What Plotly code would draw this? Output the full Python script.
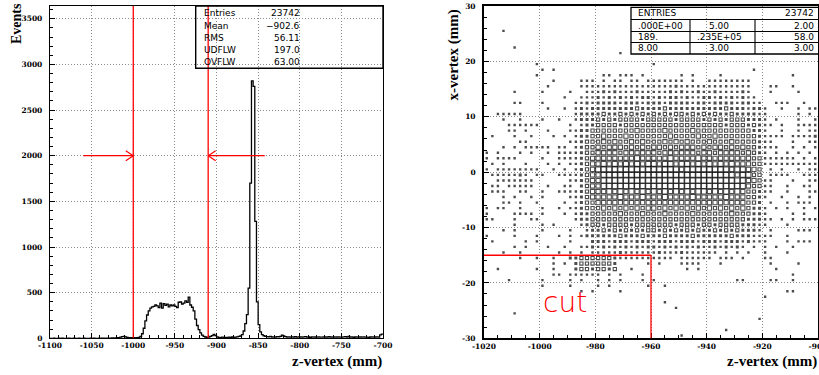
import numpy as np
import plotly.graph_objects as go

W, H = 819, 375

# ---------------- z-vertex spectrum: 2 mm bins, -1100 .. -700 mm ----------------
z_lo, z_hi, z_bin_w = -1100, -700, 2
z_counts = (
    [0, 0, 1, 0, 0, 2, 0, 1, 0, 0] +            # -1100 .. -1080
    [0, 1, 0, 0, 2, 0, 0, 1, 0, 0] +            # -1080 .. -1060
    [1, 0, 0, 0, 1, 0, 2, 0, 0, 1] +            # -1060 .. -1040
    [0, 2, 1, 0, 3, 1, 2, 4, 3, 5] +            # -1040 .. -1020
    [6, 8, 12, 18, 22, 15, 10, 6, 8, 5] +       # -1020 .. -1000
    [6, 5, 8, 10, 20, 50, 110, 190, 255, 300] + # -1000 .. -980
    [330, 345, 350, 365, 355, 335, 385, 330, 380, 360] +
    [375, 345, 365, 355, 365, 350, 335, 395, 400, 375] +
    [385, 410, 395, 450, 365, 340, 300, 210, 140, 95] +
    [60, 35, 22, 14, 10, 12, 20, 30, 42, 30] +  # -920 .. -900
    [15, 10, 8, 12, 6, 10, 8, 12, 10, 14] +
    [10, 12, 15, 20, 25, 40, 80, 160, 260, 550] +
    [1700, 2820, 2760, 1280, 400, 150, 70, 40, 28, 22] +
    [18, 15, 20, 14, 16, 12, 18, 15, 22, 35] +
    [25, 18, 14, 16, 12, 15, 14, 18, 12, 15] +
    [14, 12, 15, 18, 12, 14, 10, 16, 12, 14] +
    [12, 15, 13, 12, 16, 14, 12, 18, 14, 12] +
    [15, 12, 14, 16, 12, 13, 15, 18, 14, 20] +
    [12, 15, 10, 14, 12, 16, 14, 12, 15, 13] +
    [12, 10, 14, 16, 12, 14, 15, 12, 38, 45]    # -720 .. -700
)

stats_labels = ["Entries", "Mean", "RMS", "UDFLW", "OVFLW"]
stats_values = ["23742", "\u2212902.6", "56.11", "197.0", "63.00"]

cut_lo, cut_hi = -1000, -910       # accepted z window (mm)
arrow_level = 2000                 # height of the window arrows

# ---------------- x-vertex vs z-vertex box plot ----------------
# 60 x 60 cells: z from -1020 (2 mm cells), x from -30 (1 mm cells)
bz_lo, bz_w = -1020, 2
bx_lo, bx_w = -30, 1
# relative cell content (0 = empty .. 5 = largest), top row is x = +29.5
E = ".........."
box_rows = [
    E * 6,
    E * 6,
    E * 6,
    E * 6,
    "...1......" + E * 5,
    E * 6,
    E * 6,
    ".....1...." + E * 5,
    E * 2 + "....1....." + E * 3,
    E * 6,
    ".........1" + E * 2 + "1........." + E * 2,
    E + "1.1......." + E * 2 + "........1." + E,
    ".........1" + E + ".11.111.1." + ".....1.1.." + "..1......." + ".....1....",
    E + "..1....111" + ".1.11.11.1" + "111111.1.." + "11111111.." + E,
    E + ".1.....111" + "1111111111" + "1111211111" + "11111111.." + ".11..1....",
    ".....1...." + "1....1..11" + "1212111211" + "1112121121" + "12111121.." + ".1....1...",
    E + "....1..111" + "2121212122" + "1212212112" + "212121211." + E,
    ".....11..." + "1.....1121" + "2222122212" + "2212222122" + "1222212211" + "..111..1..",
    E + ".1..1.1212" + "2222222322" + "2232222222" + "2223222122" + "1..1..1.11",
    "..11111..." + "......1222" + "2322323232" + "3232332323" + "2322322221" + "1.....1.1.",
    "...1..1..." + "1..1..1222" + "3232333323" + "3333233332" + "3232333222" + "1.1...1..1",
    "....111111" + ".....1.122" + "3333233333" + "3333333333" + "3332333232" + "11.1..1111",
    "....11.1.." + ".1...11223" + "3333333433" + "3343333433" + "3333333322" + "1..1..1.11",
    ".1...1..1." + "..1.1.1223" + "3433343333" + "3334333343" + "3433333332" + "1111.11112",
    "......11.." + ".....11233" + "3434334343" + "3343434333" + "4333433332" + "11...1..11",
    "...1.1.111" + "11.11.1233" + "4344434343" + "4434344434" + "3443434332" + "111..1.1.1",
    "1.1...1.1." + ".1.1111233" + "4444344444" + "4344444434" + "4344443432" + "1.1.1.1.1.",
    "1.1111...." + "1..1111234" + "4444444544" + "4445444454" + "4444444433" + "111111.1.1",
    ".1.1...1.." + ".1.1.11234" + "4545454545" + "5455455454" + "5454544433" + "1111111111",
    "1.11111111" + "..1.1.1234" + "5555555555" + "5555545555" + "5555455443" + ".1.1..1.11",
    ".1111121.1" + "1..1111234" + "4555555555" + "5555555555" + "5555545533" + ".1111..111",
    "..1111111." + ".....11234" + "4555555555" + "5555555555" + "5555555443" + "11...1..11",
    ".11.11111." + ".1..11.234" + "4555555555" + "5555555555" + "5555555433" + "11..1..11.",
    ".111..11.." + "1..1111234" + "4454545454" + "5454545455" + "4545454332" + "11..1...11",
    "...1.1..1." + "1....11234" + "4444544454" + "4454444544" + "4445444332" + "1..1..1.1.",
    "...11.1..1" + "....1.1233" + "4444444444" + "4444444444" + "4444444332" + ".1..1.111.",
    "1.11..1..." + "1..1.11233" + "3434343434" + "4343434343" + "4343434322" + "1.1.1..1.1",
    "1....1111." + "1...1.1223" + "3333433343" + "3343333433" + "3333433322" + "1....1.1..",
    "11...1..11" + "......1223" + "3333333333" + "3333333333" + "3333333222" + "11.1.1.111",
    ".....1...." + "1.1....123" + "3233332333" + "3333233323" + "3233332221" + "1...1.....",
    "...1.1...." + "1....1..12" + "2323232323" + "3232323232" + "2323232221" + ".1....111.",
    "1....1...1" + "...1.1.122" + "2222322232" + "2232222322" + "2222322211" + "11..1.....",
    ".1.....1.1" + ".....1...2" + "2212221222" + "1222122212" + "2212221211" + "1...1.111.",
    ".....1.1.." + ".1..1..112" + "1212121212" + "2121212121" + "1212121.1." + "1.1..1....",
    "...1..1..." + "...1.1.1.1" + "1111211111" + "1211121111" + "11.1.1.1.." + "1...1.....",
    "......1..1" + "..1..22333" + "3332111111" + "1111.11111" + "1.111.1..." + "11........",
    E + "..1.1.2333" + "3332.....1" + ".1...1111." + "..1......." + ".1....1...",
    "..1......1" + "..1...2332" + "3323..1..." + "......1.1." + E + "..1.......",
    E + "..11.11111" + "1.1.1...1." + E + E + ".....1....",
    "....1....." + "1....1.1.." + "1.1.1...1." + "1........." + ".....11..." + ".11..1....",
    E + "1....1...." + "1.1......1" + "..1......." + E + E,
    E + ".......1.1" + "....1....." + E + E + "....11....",
    E * 5 + "1.........",
    E * 3 + "..1......." + E * 2,
    E * 3 + "....1....." + E * 2,
    ".....1...." + E * 5,
    E * 4 + ".........1" + E,
    E * 6,
    E * 4 + "...1......" + E,
    E * 3 + ".....1...." + E * 2,
]

table_entries = 23742
table_cells = [
    [".000E+00", "5.00", "2.00"],
    ["189.", ".235E+05", "58.0"],
    ["8.00", "3.00", "3.00"],
]

cut_x, cut_z = -15, -960           # box cut in the x/z plane

# ---------------- helpers ----------------
def fx(p):            # pixel column -> paper x
    return p / W


def fy(p):            # pixel row -> paper y
    return 1 - p / H


SERIF = "DejaVu Serif"
TITLE = "Liberation Serif"
SANS = "DejaVu Sans"
RED = "#ff0000"

fig = go.Figure()

# ---- histogram as a step outline ----
edges = np.arange(z_lo, z_hi + z_bin_w, z_bin_w)
step_y = list(z_counts) + [z_counts[-1]]
fig.add_trace(go.Scatter(
    x=edges, y=step_y, mode="lines", line=dict(color="black", width=1.3, shape="hv"),
    xaxis="x", yaxis="y", hoverinfo="skip"))

# ---- box plot cells ----
levels = np.array([[int(c) if c != "." else 0 for c in r] for r in box_rows[::-1]])
jj, ii = np.nonzero(levels)
cz = bz_lo + (ii + 0.5) * bz_w
cx = bx_lo + (jj + 0.5) * bx_w
lv = levels[jj, ii]
size_of = {1: 2.4, 2: 3.0, 3: 3.2, 4: 4.2, 5: 5.0}
small = lv <= 2
fig.add_trace(go.Scatter(
    x=cz[small], y=cx[small], mode="markers", xaxis="x2", yaxis="y2",
    marker=dict(symbol="square", color="black", line=dict(width=0),
                size=[size_of[v] for v in lv[small]]), hoverinfo="skip"))
fig.add_trace(go.Scatter(
    x=cz[~small], y=cx[~small], mode="markers", xaxis="x2", yaxis="y2",
    marker=dict(symbol="square-open", color="black", line=dict(width=1.1, color="black"),
                size=[size_of[v] for v in lv[~small]]), hoverinfo="skip"))

# ---------------- axes ----------------
ydom = [fy(338.3), fy(6)]
tickfont = dict(family=SERIF, size=7.5, color="black", weight="bold")
grid = dict(showgrid=True, gridcolor="#8a8a8a", griddash="1px,2px", gridwidth=1)


def ticks(lo, hi, step):
    v = list(range(lo, hi + 1, step))
    return v, [str(t) for t in v]


xv, xt = ticks(-1100, -700, 50)
yv, yt = ticks(0, 3500, 500)
x2v, x2t = ticks(-1020, -900, 20)
y2v, y2t = ticks(-30, 30, 10)

common = dict(showline=True, linecolor="black", mirror=True, zeroline=False,
              automargin=False, ticks="inside", tickcolor="black", tickfont=tickfont,
              ticklabeloverflow="allow", **grid)

fig.update_layout(
    template="none",
    width=W, height=H, margin=dict(l=0, r=0, t=0, b=0, pad=0),
    paper_bgcolor="white", plot_bgcolor="white", showlegend=False,
    xaxis=dict(domain=[fx(50), fx(383)], range=[z_lo, z_hi], anchor="y",
               tickmode="array", tickvals=xv, ticktext=xt, ticklen=5, linewidth=1.3,
               ticklabelstandoff=0,
               minor=dict(ticks="inside", ticklen=3, dtick=10, tick0=-1100,
                          tickcolor="black", showgrid=False), **common),
    yaxis=dict(domain=ydom, range=[0, 3640], anchor="x",
               tickmode="array", tickvals=yv, ticktext=yt, ticklen=5, linewidth=1.3,
               ticklabelstandoff=5,
               minor=dict(ticks="inside", ticklen=3, dtick=100, tick0=0,
                          tickcolor="black", showgrid=False), **common),
    xaxis2=dict(domain=[fx(484), fx(818)], range=[-1020, -900], anchor="y2",
                tickmode="array", tickvals=x2v, ticktext=x2t, ticklen=5, linewidth=1.8,
                ticklabelstandoff=0,
                minor=dict(ticks="inside", ticklen=3, dtick=5, tick0=-1020,
                           tickcolor="black", showgrid=False), **common),
    yaxis2=dict(domain=ydom, range=[-30, 30], anchor="x2",
                tickmode="array", tickvals=y2v, ticktext=y2t, ticklen=5, linewidth=1.8,
                ticklabelstandoff=5,
                minor=dict(ticks="inside", ticklen=3, dtick=2, tick0=-30,
                           tickcolor="black", showgrid=False), **common),
)

shapes = []
ann = []

# ---- z window cuts with arrows ----
for zc in (cut_lo, cut_hi):
    shapes.append(dict(type="line", xref="x", yref="y", x0=zc, x1=zc, y0=0, y1=3640,
                       line=dict(color=RED, width=1.3)))
head_dz, head_dy = 9.0, 55
shapes.append(dict(type="line", xref="x", yref="y", x0=cut_lo - 60, x1=cut_lo,
                   y0=arrow_level, y1=arrow_level, line=dict(color=RED, width=1.3)))
shapes.append(dict(type="line", xref="x", yref="y", x0=cut_hi, x1=cut_hi + 68,
                   y0=arrow_level, y1=arrow_level, line=dict(color=RED, width=1.3)))
for tip, sgn in ((cut_lo, -1), (cut_hi, 1)):
    for s in (-1, 1):
        shapes.append(dict(type="line", xref="x", yref="y", x0=tip, x1=tip + sgn * head_dz,
                           y0=arrow_level, y1=arrow_level + s * head_dy,
                           line=dict(color=RED, width=1.1)))

# ---- statistics box of the histogram ----
shapes.append(dict(type="rect", xref="paper", yref="paper", x0=fx(195.7), x1=fx(383),
                   y0=fy(68.3), y1=fy(6), line=dict(color="black", width=1.4)))
for k, (lab, val) in enumerate(zip(stats_labels, stats_values)):
    yy = fy(13.3 + 12.25 * k)
    ann.append(dict(x=fx(202), y=yy, xref="paper", yref="paper", text=lab,
                    showarrow=False, xanchor="left", yanchor="middle",
                    font=dict(family=SANS, size=9, color="black")))
    ann.append(dict(x=fx(302), y=yy, xref="paper", yref="paper", text=val,
                    showarrow=False, xanchor="right", yanchor="middle",
                    font=dict(family=SANS, size=9, color="black")))

# ---- entries / overflow table of the box plot ----
t_l, t_r, c1, c2 = 631, 819, 690, 755
row_lines = [7.3, 19.5, 31.5, 42.5, 54]
shapes.append(dict(type="rect", xref="paper", yref="paper", x0=fx(t_l), x1=fx(t_r),
                   y0=fy(row_lines[-1]), y1=fy(row_lines[0]),
                   line=dict(color="black", width=1.3)))
for r in row_lines[1:-1]:
    shapes.append(dict(type="line", xref="paper", yref="paper", x0=fx(t_l), x1=fx(t_r),
                       y0=fy(r), y1=fy(r), line=dict(color="black", width=1.1)))
for c in (c1, c2):
    shapes.append(dict(type="line", xref="paper", yref="paper", x0=fx(c), x1=fx(c),
                       y0=fy(row_lines[-1]), y1=fy(row_lines[1]),
                       line=dict(color="black", width=1.1)))
tfont = dict(family=SANS, size=9, color="black")
ann.append(dict(x=fx(636), y=fy(13.4), xref="paper", yref="paper", text="ENTRIES",
                showarrow=False, xanchor="left", yanchor="middle", font=tfont))
ann.append(dict(x=fx(816), y=fy(13.4), xref="paper", yref="paper", text=str(table_entries),
                showarrow=False, xanchor="right", yanchor="middle", font=tfont))
for k, row in enumerate(table_cells):
    yy = fy((row_lines[k + 1] + row_lines[k + 2]) / 2)
    ann.append(dict(x=fx(636), y=yy, xref="paper", yref="paper", text=row[0],
                    showarrow=False, xanchor="left", yanchor="middle", font=tfont))
    ann.append(dict(x=fx(719), y=yy, xref="paper", yref="paper", text=row[1],
                    showarrow=False, xanchor="center", yanchor="middle", font=tfont))
    ann.append(dict(x=fx(816), y=yy, xref="paper", yref="paper", text=row[2],
                    showarrow=False, xanchor="right", yanchor="middle", font=tfont))

# ---- box cut in the x/z plane ----
shapes.append(dict(type="line", xref="x2", yref="y2", x0=-1020, x1=cut_z, y0=cut_x, y1=cut_x,
                   line=dict(color=RED, width=1.5)))
shapes.append(dict(type="line", xref="x2", yref="y2", x0=cut_z, x1=cut_z, y0=-30, y1=cut_x,
                   line=dict(color=RED, width=1.3)))
ann.append(dict(x=-991, y=-23.5, xref="x2", yref="y2", text="cut", showarrow=False,
                xanchor="center", yanchor="middle",
                font=dict(family=SANS, size=28, color=RED, weight=200)))

# ---- axis titles ----
tt = dict(family=TITLE, size=15, color="black", weight="bold")
ann.append(dict(x=fx(337), y=fy(361), xref="paper", yref="paper", text="z-vertex (mm)",
                showarrow=False, xanchor="center", yanchor="middle", font=tt))
ann.append(dict(x=fx(772), y=fy(361), xref="paper", yref="paper", text="z-vertex (mm)",
                showarrow=False, xanchor="center", yanchor="middle", font=tt))
ann.append(dict(x=fx(16), y=fy(24), xref="paper", yref="paper", text="Events",
                showarrow=False, xanchor="center", yanchor="middle", textangle=-90,
                font=dict(family=TITLE, size=14, color="black", weight="bold")))
ann.append(dict(x=fx(452.5), y=fy(55), xref="paper", yref="paper", text="x-vertex (mm)",
                showarrow=False, xanchor="center", yanchor="middle", textangle=-90, font=tt))

fig.update_layout(shapes=shapes, annotations=ann)
fig.write_html("out.html")
